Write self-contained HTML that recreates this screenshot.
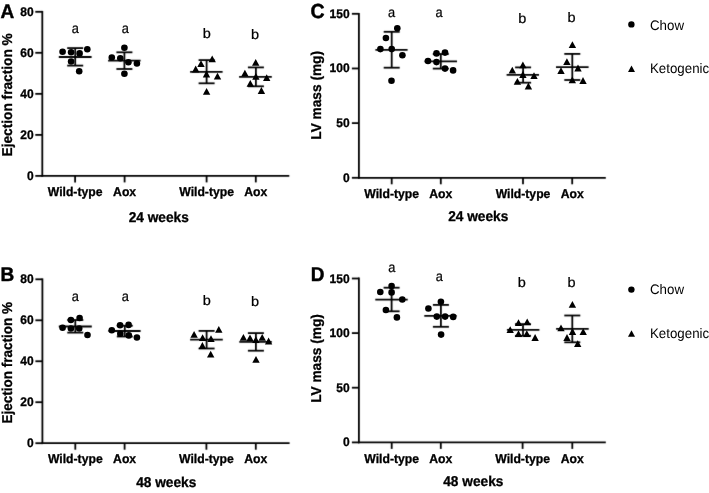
<!DOCTYPE html>
<html><head><meta charset="utf-8"><title>Figure</title>
<style>
html,body{margin:0;padding:0;background:#fff;}
body{width:709px;height:493px;overflow:hidden;font-family:"Liberation Sans", sans-serif;}
svg{display:block;filter:grayscale(1);text-rendering:geometricPrecision;}
</style></head>
<body>
<svg width="709" height="493" viewBox="0 0 709 493">
<defs><filter id="soft" x="0" y="0" width="709" height="493" filterUnits="userSpaceOnUse" color-interpolation-filters="sRGB"><feConvolveMatrix order="3" kernelMatrix="1 8 1 8 64 8 1 8 1" divisor="100" edgeMode="duplicate"/></filter></defs>
<rect width="709" height="493" fill="#fff"/>
<g filter="url(#soft)">
<g stroke="#000" fill="none" stroke-linecap="butt">
<line x1="42.30" y1="10.90" x2="42.30" y2="176.80" stroke-width="1.8"/>
<line x1="41.40" y1="175.90" x2="289.30" y2="175.90" stroke-width="1.8"/>
<line x1="35.30" y1="11.80" x2="42.30" y2="11.80" stroke-width="1.8"/>
<line x1="35.30" y1="52.80" x2="42.30" y2="52.80" stroke-width="1.8"/>
<line x1="35.30" y1="93.85" x2="42.30" y2="93.85" stroke-width="1.8"/>
<line x1="35.30" y1="134.90" x2="42.30" y2="134.90" stroke-width="1.8"/>
<line x1="35.30" y1="175.90" x2="42.30" y2="175.90" stroke-width="1.8"/>
<line x1="75.10" y1="175.90" x2="75.10" y2="182.40" stroke-width="1.8"/>
<line x1="124.60" y1="175.90" x2="124.60" y2="182.40" stroke-width="1.8"/>
<line x1="206.60" y1="175.90" x2="206.60" y2="182.40" stroke-width="1.8"/>
<line x1="255.80" y1="175.90" x2="255.80" y2="182.40" stroke-width="1.8"/>
<line x1="58.80" y1="57.00" x2="91.60" y2="57.00" stroke-width="1.8"/>
<line x1="67.20" y1="48.10" x2="83.20" y2="48.10" stroke-width="1.8"/>
<line x1="67.20" y1="65.60" x2="83.20" y2="65.60" stroke-width="1.8"/>
<line x1="75.20" y1="48.10" x2="75.20" y2="65.60" stroke-width="1.8"/>
<line x1="108.10" y1="60.70" x2="140.60" y2="60.70" stroke-width="1.8"/>
<line x1="116.40" y1="52.30" x2="132.40" y2="52.30" stroke-width="1.8"/>
<line x1="116.40" y1="69.00" x2="132.40" y2="69.00" stroke-width="1.8"/>
<line x1="124.40" y1="52.30" x2="124.40" y2="69.00" stroke-width="1.8"/>
<line x1="190.10" y1="71.80" x2="222.60" y2="71.80" stroke-width="1.8"/>
<line x1="198.60" y1="60.10" x2="214.60" y2="60.10" stroke-width="1.8"/>
<line x1="198.60" y1="83.30" x2="214.60" y2="83.30" stroke-width="1.8"/>
<line x1="206.60" y1="60.10" x2="206.60" y2="83.30" stroke-width="1.8"/>
<line x1="239.10" y1="76.90" x2="271.80" y2="76.90" stroke-width="1.8"/>
<line x1="247.90" y1="67.40" x2="263.90" y2="67.40" stroke-width="1.8"/>
<line x1="247.90" y1="86.30" x2="263.90" y2="86.30" stroke-width="1.8"/>
<line x1="255.90" y1="67.40" x2="255.90" y2="86.30" stroke-width="1.8"/>
<line x1="42.40" y1="278.40" x2="42.40" y2="444.10" stroke-width="1.8"/>
<line x1="41.50" y1="443.20" x2="289.60" y2="443.20" stroke-width="1.8"/>
<line x1="35.40" y1="279.30" x2="42.40" y2="279.30" stroke-width="1.8"/>
<line x1="35.40" y1="320.30" x2="42.40" y2="320.30" stroke-width="1.8"/>
<line x1="35.40" y1="361.25" x2="42.40" y2="361.25" stroke-width="1.8"/>
<line x1="35.40" y1="402.20" x2="42.40" y2="402.20" stroke-width="1.8"/>
<line x1="35.40" y1="443.20" x2="42.40" y2="443.20" stroke-width="1.8"/>
<line x1="75.30" y1="443.20" x2="75.30" y2="449.70" stroke-width="1.8"/>
<line x1="124.60" y1="443.20" x2="124.60" y2="449.70" stroke-width="1.8"/>
<line x1="206.40" y1="443.20" x2="206.40" y2="449.70" stroke-width="1.8"/>
<line x1="255.80" y1="443.20" x2="255.80" y2="449.70" stroke-width="1.8"/>
<line x1="58.80" y1="326.50" x2="91.80" y2="326.50" stroke-width="1.8"/>
<line x1="67.30" y1="320.00" x2="83.30" y2="320.00" stroke-width="1.8"/>
<line x1="67.30" y1="332.60" x2="83.30" y2="332.60" stroke-width="1.8"/>
<line x1="75.30" y1="320.00" x2="75.30" y2="332.60" stroke-width="1.8"/>
<line x1="108.50" y1="331.00" x2="140.60" y2="331.00" stroke-width="1.8"/>
<line x1="116.80" y1="325.70" x2="132.80" y2="325.70" stroke-width="1.8"/>
<line x1="116.80" y1="336.50" x2="132.80" y2="336.50" stroke-width="1.8"/>
<line x1="124.80" y1="325.70" x2="124.80" y2="336.50" stroke-width="1.8"/>
<line x1="190.10" y1="339.60" x2="222.80" y2="339.60" stroke-width="1.8"/>
<line x1="198.60" y1="330.90" x2="214.60" y2="330.90" stroke-width="1.8"/>
<line x1="198.60" y1="348.50" x2="214.60" y2="348.50" stroke-width="1.8"/>
<line x1="206.60" y1="330.90" x2="206.60" y2="348.50" stroke-width="1.8"/>
<line x1="239.30" y1="341.90" x2="271.80" y2="341.90" stroke-width="1.8"/>
<line x1="247.90" y1="333.10" x2="263.90" y2="333.10" stroke-width="1.8"/>
<line x1="247.90" y1="350.70" x2="263.90" y2="350.70" stroke-width="1.8"/>
<line x1="255.90" y1="333.10" x2="255.90" y2="350.70" stroke-width="1.8"/>
<line x1="358.90" y1="12.90" x2="358.90" y2="178.70" stroke-width="1.8"/>
<line x1="358.00" y1="177.80" x2="605.80" y2="177.80" stroke-width="1.8"/>
<line x1="351.90" y1="13.80" x2="358.90" y2="13.80" stroke-width="1.8"/>
<line x1="351.90" y1="68.47" x2="358.90" y2="68.47" stroke-width="1.8"/>
<line x1="351.90" y1="123.13" x2="358.90" y2="123.13" stroke-width="1.8"/>
<line x1="351.90" y1="177.80" x2="358.90" y2="177.80" stroke-width="1.8"/>
<line x1="391.70" y1="177.80" x2="391.70" y2="184.30" stroke-width="1.8"/>
<line x1="440.80" y1="177.80" x2="440.80" y2="184.30" stroke-width="1.8"/>
<line x1="523.00" y1="177.80" x2="523.00" y2="184.30" stroke-width="1.8"/>
<line x1="572.20" y1="177.80" x2="572.20" y2="184.30" stroke-width="1.8"/>
<line x1="375.40" y1="49.80" x2="407.60" y2="49.80" stroke-width="1.8"/>
<line x1="383.70" y1="31.80" x2="399.70" y2="31.80" stroke-width="1.8"/>
<line x1="383.70" y1="67.70" x2="399.70" y2="67.70" stroke-width="1.8"/>
<line x1="391.70" y1="31.80" x2="391.70" y2="67.70" stroke-width="1.8"/>
<line x1="424.50" y1="61.30" x2="457.00" y2="61.30" stroke-width="1.8"/>
<line x1="432.80" y1="54.00" x2="448.80" y2="54.00" stroke-width="1.8"/>
<line x1="432.80" y1="68.60" x2="448.80" y2="68.60" stroke-width="1.8"/>
<line x1="440.80" y1="54.00" x2="440.80" y2="68.60" stroke-width="1.8"/>
<line x1="506.60" y1="74.80" x2="539.00" y2="74.80" stroke-width="1.8"/>
<line x1="515.10" y1="67.40" x2="531.10" y2="67.40" stroke-width="1.8"/>
<line x1="515.10" y1="82.70" x2="531.10" y2="82.70" stroke-width="1.8"/>
<line x1="523.10" y1="67.40" x2="523.10" y2="82.70" stroke-width="1.8"/>
<line x1="556.00" y1="67.20" x2="588.60" y2="67.20" stroke-width="1.8"/>
<line x1="564.30" y1="53.90" x2="580.30" y2="53.90" stroke-width="1.8"/>
<line x1="564.30" y1="80.00" x2="580.30" y2="80.00" stroke-width="1.8"/>
<line x1="572.30" y1="53.90" x2="572.30" y2="80.00" stroke-width="1.8"/>
<line x1="358.90" y1="277.60" x2="358.90" y2="443.30" stroke-width="1.8"/>
<line x1="358.00" y1="442.40" x2="605.80" y2="442.40" stroke-width="1.8"/>
<line x1="351.90" y1="278.50" x2="358.90" y2="278.50" stroke-width="1.8"/>
<line x1="351.90" y1="333.10" x2="358.90" y2="333.10" stroke-width="1.8"/>
<line x1="351.90" y1="387.70" x2="358.90" y2="387.70" stroke-width="1.8"/>
<line x1="351.90" y1="442.40" x2="358.90" y2="442.40" stroke-width="1.8"/>
<line x1="391.70" y1="442.40" x2="391.70" y2="448.90" stroke-width="1.8"/>
<line x1="440.80" y1="442.40" x2="440.80" y2="448.90" stroke-width="1.8"/>
<line x1="522.60" y1="442.40" x2="522.60" y2="448.90" stroke-width="1.8"/>
<line x1="572.30" y1="442.40" x2="572.30" y2="448.90" stroke-width="1.8"/>
<line x1="375.30" y1="299.60" x2="407.70" y2="299.60" stroke-width="1.8"/>
<line x1="383.60" y1="287.70" x2="399.60" y2="287.70" stroke-width="1.8"/>
<line x1="383.60" y1="311.30" x2="399.60" y2="311.30" stroke-width="1.8"/>
<line x1="391.60" y1="287.70" x2="391.60" y2="311.30" stroke-width="1.8"/>
<line x1="424.30" y1="315.90" x2="456.60" y2="315.90" stroke-width="1.8"/>
<line x1="432.90" y1="304.90" x2="448.90" y2="304.90" stroke-width="1.8"/>
<line x1="432.90" y1="326.80" x2="448.90" y2="326.80" stroke-width="1.8"/>
<line x1="440.90" y1="304.90" x2="440.90" y2="326.80" stroke-width="1.8"/>
<line x1="506.90" y1="329.80" x2="539.40" y2="329.80" stroke-width="1.8"/>
<line x1="515.00" y1="324.10" x2="531.00" y2="324.10" stroke-width="1.8"/>
<line x1="515.00" y1="335.80" x2="531.00" y2="335.80" stroke-width="1.8"/>
<line x1="523.00" y1="324.10" x2="523.00" y2="335.80" stroke-width="1.8"/>
<line x1="556.10" y1="328.90" x2="588.70" y2="328.90" stroke-width="1.8"/>
<line x1="564.30" y1="315.50" x2="580.30" y2="315.50" stroke-width="1.8"/>
<line x1="564.30" y1="342.30" x2="580.30" y2="342.30" stroke-width="1.8"/>
<line x1="572.30" y1="315.50" x2="572.30" y2="342.30" stroke-width="1.8"/>
</g>
</g>
<g fill="#000" stroke="none">
<circle cx="62.60" cy="51.80" r="3.3"/>
<circle cx="71.10" cy="52.20" r="3.3"/>
<circle cx="79.60" cy="53.40" r="3.3"/>
<circle cx="87.30" cy="49.30" r="3.3"/>
<circle cx="71.10" cy="61.50" r="3.3"/>
<circle cx="79.20" cy="71.20" r="3.3"/>
<circle cx="124.40" cy="47.70" r="3.3"/>
<circle cx="111.80" cy="57.50" r="3.3"/>
<circle cx="120.30" cy="58.30" r="3.3"/>
<circle cx="128.40" cy="62.30" r="3.3"/>
<circle cx="136.90" cy="63.50" r="3.3"/>
<circle cx="124.40" cy="73.70" r="3.3"/>
<path d="M212.20 55.50L215.90 62.30L208.50 62.30Z"/>
<path d="M201.00 60.30L204.70 67.10L197.30 67.10Z"/>
<path d="M195.70 65.60L199.40 72.40L192.00 72.40Z"/>
<path d="M206.50 70.60L210.20 77.40L202.80 77.40Z"/>
<path d="M217.50 72.70L221.20 79.50L213.80 79.50Z"/>
<path d="M206.60 87.90L210.30 94.70L202.90 94.70Z"/>
<path d="M255.70 59.00L259.40 65.80L252.00 65.80Z"/>
<path d="M244.90 69.80L248.60 76.60L241.20 76.60Z"/>
<path d="M255.90 73.00L259.60 79.80L252.20 79.80Z"/>
<path d="M266.70 74.20L270.40 81.00L263.00 81.00Z"/>
<path d="M250.30 80.00L254.00 86.80L246.60 86.80Z"/>
<path d="M261.40 87.10L265.10 93.90L257.70 93.90Z"/>
<circle cx="70.90" cy="320.00" r="3.3"/>
<circle cx="79.60" cy="318.00" r="3.3"/>
<circle cx="62.60" cy="327.70" r="3.3"/>
<circle cx="70.90" cy="328.50" r="3.3"/>
<circle cx="79.20" cy="328.50" r="3.3"/>
<circle cx="87.50" cy="335.00" r="3.3"/>
<circle cx="111.80" cy="330.30" r="3.3"/>
<circle cx="120.10" cy="325.30" r="3.3"/>
<circle cx="128.60" cy="324.90" r="3.3"/>
<circle cx="120.30" cy="333.80" r="3.3"/>
<circle cx="128.80" cy="335.40" r="3.3"/>
<circle cx="136.90" cy="337.50" r="3.3"/>
<path d="M218.80 326.00L222.50 332.80L215.10 332.80Z"/>
<path d="M194.10 330.90L197.80 337.70L190.40 337.70Z"/>
<path d="M202.60 334.20L206.30 341.00L198.90 341.00Z"/>
<path d="M211.00 335.30L214.70 342.10L207.30 342.10Z"/>
<path d="M202.40 342.10L206.10 348.90L198.70 348.90Z"/>
<path d="M210.70 350.80L214.40 357.60L207.00 357.60Z"/>
<path d="M243.40 334.00L247.10 340.80L239.70 340.80Z"/>
<path d="M250.00 334.50L253.70 341.30L246.30 341.30Z"/>
<path d="M255.90 336.20L259.60 343.00L252.20 343.00Z"/>
<path d="M262.20 333.90L265.90 340.70L258.50 340.70Z"/>
<path d="M268.60 337.60L272.30 344.40L264.90 344.40Z"/>
<path d="M256.00 355.90L259.70 362.70L252.30 362.70Z"/>
<circle cx="397.30" cy="28.20" r="3.3"/>
<circle cx="385.90" cy="38.00" r="3.3"/>
<circle cx="380.40" cy="49.10" r="3.3"/>
<circle cx="391.70" cy="49.10" r="3.3"/>
<circle cx="402.40" cy="55.20" r="3.3"/>
<circle cx="391.50" cy="80.70" r="3.3"/>
<circle cx="436.50" cy="53.40" r="3.3"/>
<circle cx="445.00" cy="52.60" r="3.3"/>
<circle cx="428.00" cy="61.00" r="3.3"/>
<circle cx="436.50" cy="62.10" r="3.3"/>
<circle cx="445.00" cy="68.60" r="3.3"/>
<circle cx="453.10" cy="70.40" r="3.3"/>
<path d="M522.90 61.50L526.60 68.30L519.20 68.30Z"/>
<path d="M512.30 66.80L516.00 73.60L508.60 73.60Z"/>
<path d="M522.90 71.10L526.60 77.90L519.20 77.90Z"/>
<path d="M534.00 72.20L537.70 79.00L530.30 79.00Z"/>
<path d="M517.40 77.90L521.10 84.70L513.70 84.70Z"/>
<path d="M528.40 82.60L532.10 89.40L524.70 89.40Z"/>
<path d="M572.40 41.30L576.10 48.10L568.70 48.10Z"/>
<path d="M566.90 58.20L570.60 65.00L563.20 65.00Z"/>
<path d="M561.00 67.20L564.70 74.00L557.30 74.00Z"/>
<path d="M578.00 64.60L581.70 71.40L574.30 71.40Z"/>
<path d="M572.30 76.40L576.00 83.20L568.60 83.20Z"/>
<path d="M583.00 77.10L586.70 83.90L579.30 83.90Z"/>
<circle cx="391.60" cy="286.00" r="3.3"/>
<circle cx="380.30" cy="292.00" r="3.3"/>
<circle cx="391.60" cy="292.40" r="3.3"/>
<circle cx="402.30" cy="299.50" r="3.3"/>
<circle cx="385.90" cy="310.00" r="3.3"/>
<circle cx="396.90" cy="317.40" r="3.3"/>
<circle cx="440.90" cy="301.70" r="3.3"/>
<circle cx="428.40" cy="308.50" r="3.3"/>
<circle cx="436.80" cy="316.60" r="3.3"/>
<circle cx="445.10" cy="316.60" r="3.3"/>
<circle cx="453.20" cy="316.90" r="3.3"/>
<circle cx="441.10" cy="334.60" r="3.3"/>
<path d="M518.50 319.30L522.20 326.10L514.80 326.10Z"/>
<path d="M527.20 318.50L530.90 325.30L523.50 325.30Z"/>
<path d="M510.20 326.20L513.90 333.00L506.50 333.00Z"/>
<path d="M518.50 330.30L522.20 337.10L514.80 337.10Z"/>
<path d="M526.80 330.30L530.50 337.10L523.10 337.10Z"/>
<path d="M535.10 334.10L538.80 340.90L531.40 340.90Z"/>
<path d="M572.40 301.00L576.10 307.80L568.70 307.80Z"/>
<path d="M561.00 324.40L564.70 331.20L557.30 331.20Z"/>
<path d="M572.50 328.10L576.20 334.90L568.80 334.90Z"/>
<path d="M583.20 328.20L586.90 335.00L579.50 335.00Z"/>
<path d="M567.00 334.10L570.70 340.90L563.30 340.90Z"/>
<path d="M577.70 340.20L581.40 347.00L574.00 347.00Z"/>
</g>
<g fill="#000" stroke="#000" stroke-width="0.3" font-family='"Liberation Sans", sans-serif'>
<text transform="translate(33.60 15.80) scale(1.0 1.04)" font-size="12" font-weight="bold" text-anchor="end">80</text>
<text transform="translate(33.60 56.80) scale(1.0 1.04)" font-size="12" font-weight="bold" text-anchor="end">60</text>
<text transform="translate(33.60 97.85) scale(1.0 1.04)" font-size="12" font-weight="bold" text-anchor="end">40</text>
<text transform="translate(33.60 138.90) scale(1.0 1.04)" font-size="12" font-weight="bold" text-anchor="end">20</text>
<text transform="translate(33.60 179.90) scale(1.0 1.04)" font-size="12" font-weight="bold" text-anchor="end">0</text>
<text transform="translate(75.10 195.80) scale(1.0 1.04)" font-size="12.2" font-weight="bold" text-anchor="middle">Wild-type</text>
<text transform="translate(124.60 195.80) scale(1.0 1.04)" font-size="12.2" font-weight="bold" text-anchor="middle">Aox</text>
<text transform="translate(206.60 195.80) scale(1.0 1.04)" font-size="12.2" font-weight="bold" text-anchor="middle">Wild-type</text>
<text transform="translate(255.80 195.80) scale(1.0 1.04)" font-size="12.2" font-weight="bold" text-anchor="middle">Aox</text>
<text transform="translate(158.70 221.60) scale(1.0 1.04)" font-size="13.7" font-weight="bold" text-anchor="middle">24 weeks</text>
<text transform="translate(0.60 18.00) scale(1.0 1.04)" font-size="19" font-weight="bold" text-anchor="start" stroke-width="0.45">A</text>
<text x="0" y="0" font-size="13.7" font-weight="bold" text-anchor="middle" transform="translate(11.60 94.85) rotate(-90) scale(1.0 1.04)">Ejection fraction %</text>
<text transform="translate(75.30 32.90) scale(1.0 1.1)" font-size="12.8" text-anchor="middle" stroke-width="0.22">a</text>
<text transform="translate(125.30 33.30) scale(1.0 1.1)" font-size="12.8" text-anchor="middle" stroke-width="0.22">a</text>
<text transform="translate(206.70 38.00) scale(1.1 1.04)" font-size="13.2" text-anchor="middle" stroke-width="0.22">b</text>
<text transform="translate(255.10 38.90) scale(1.1 1.04)" font-size="13.2" text-anchor="middle" stroke-width="0.22">b</text>
<text transform="translate(33.60 283.30) scale(1.0 1.04)" font-size="12" font-weight="bold" text-anchor="end">80</text>
<text transform="translate(33.60 324.30) scale(1.0 1.04)" font-size="12" font-weight="bold" text-anchor="end">60</text>
<text transform="translate(33.60 365.25) scale(1.0 1.04)" font-size="12" font-weight="bold" text-anchor="end">40</text>
<text transform="translate(33.60 406.20) scale(1.0 1.04)" font-size="12" font-weight="bold" text-anchor="end">20</text>
<text transform="translate(33.60 447.20) scale(1.0 1.04)" font-size="12" font-weight="bold" text-anchor="end">0</text>
<text transform="translate(75.30 462.80) scale(1.0 1.04)" font-size="12.2" font-weight="bold" text-anchor="middle">Wild-type</text>
<text transform="translate(124.60 462.80) scale(1.0 1.04)" font-size="12.2" font-weight="bold" text-anchor="middle">Aox</text>
<text transform="translate(206.40 462.80) scale(1.0 1.04)" font-size="12.2" font-weight="bold" text-anchor="middle">Wild-type</text>
<text transform="translate(255.80 462.80) scale(1.0 1.04)" font-size="12.2" font-weight="bold" text-anchor="middle">Aox</text>
<text transform="translate(166.20 487.40) scale(1.0 1.04)" font-size="13.7" font-weight="bold" text-anchor="middle">48 weeks</text>
<text transform="translate(0.60 281.00) scale(1.0 1.04)" font-size="19" font-weight="bold" text-anchor="start" stroke-width="0.45">B</text>
<text x="0" y="0" font-size="13.7" font-weight="bold" text-anchor="middle" transform="translate(11.60 362.70) rotate(-90) scale(0.985 1.04)">Ejection fraction %</text>
<text transform="translate(75.30 300.60) scale(1.0 1.1)" font-size="12.8" text-anchor="middle" stroke-width="0.22">a</text>
<text transform="translate(125.30 300.90) scale(1.0 1.1)" font-size="12.8" text-anchor="middle" stroke-width="0.22">a</text>
<text transform="translate(206.80 305.40) scale(1.1 1.04)" font-size="13.2" text-anchor="middle" stroke-width="0.22">b</text>
<text transform="translate(255.00 306.30) scale(1.1 1.04)" font-size="13.2" text-anchor="middle" stroke-width="0.22">b</text>
<text transform="translate(349.60 17.80) scale(1.0 1.04)" font-size="12" font-weight="bold" text-anchor="end">150</text>
<text transform="translate(349.60 72.47) scale(1.0 1.04)" font-size="12" font-weight="bold" text-anchor="end">100</text>
<text transform="translate(349.60 127.13) scale(1.0 1.04)" font-size="12" font-weight="bold" text-anchor="end">50</text>
<text transform="translate(349.60 181.80) scale(1.0 1.04)" font-size="12" font-weight="bold" text-anchor="end">0</text>
<text transform="translate(391.70 197.70) scale(1.0 1.04)" font-size="12.2" font-weight="bold" text-anchor="middle">Wild-type</text>
<text transform="translate(440.80 197.70) scale(1.0 1.04)" font-size="12.2" font-weight="bold" text-anchor="middle">Aox</text>
<text transform="translate(523.00 197.70) scale(1.0 1.04)" font-size="12.2" font-weight="bold" text-anchor="middle">Wild-type</text>
<text transform="translate(572.20 197.70) scale(1.0 1.04)" font-size="12.2" font-weight="bold" text-anchor="middle">Aox</text>
<text transform="translate(478.20 221.40) scale(1.0 1.04)" font-size="13.7" font-weight="bold" text-anchor="middle">24 weeks</text>
<text transform="translate(310.60 18.20) scale(1.0 1.04)" font-size="19.5" font-weight="bold" text-anchor="start" stroke-width="0.45">C</text>
<text x="0" y="0" font-size="13.7" font-weight="bold" text-anchor="middle" transform="translate(321.20 95.35) rotate(-90) scale(1.0 1.04)">LV mass (mg)</text>
<text transform="translate(391.60 17.10) scale(1.0 1.1)" font-size="12.8" text-anchor="middle" stroke-width="0.22">a</text>
<text transform="translate(439.10 17.10) scale(1.0 1.1)" font-size="12.8" text-anchor="middle" stroke-width="0.22">a</text>
<text transform="translate(522.20 22.50) scale(1.1 1.04)" font-size="13.2" text-anchor="middle" stroke-width="0.22">b</text>
<text transform="translate(571.50 21.60) scale(1.1 1.04)" font-size="13.2" text-anchor="middle" stroke-width="0.22">b</text>
<text transform="translate(349.60 282.50) scale(1.0 1.04)" font-size="12" font-weight="bold" text-anchor="end">150</text>
<text transform="translate(349.60 337.10) scale(1.0 1.04)" font-size="12" font-weight="bold" text-anchor="end">100</text>
<text transform="translate(349.60 391.70) scale(1.0 1.04)" font-size="12" font-weight="bold" text-anchor="end">50</text>
<text transform="translate(349.60 446.40) scale(1.0 1.04)" font-size="12" font-weight="bold" text-anchor="end">0</text>
<text transform="translate(391.70 462.50) scale(1.0 1.04)" font-size="12.2" font-weight="bold" text-anchor="middle">Wild-type</text>
<text transform="translate(440.80 462.50) scale(1.0 1.04)" font-size="12.2" font-weight="bold" text-anchor="middle">Aox</text>
<text transform="translate(522.60 462.50) scale(1.0 1.04)" font-size="12.2" font-weight="bold" text-anchor="middle">Wild-type</text>
<text transform="translate(572.30 462.50) scale(1.0 1.04)" font-size="12.2" font-weight="bold" text-anchor="middle">Aox</text>
<text transform="translate(473.30 486.20) scale(1.0 1.04)" font-size="13.7" font-weight="bold" text-anchor="middle">48 weeks</text>
<text transform="translate(310.80 281.20) scale(1.0 1.04)" font-size="19" font-weight="bold" text-anchor="start" stroke-width="0.45">D</text>
<text x="0" y="0" font-size="13.7" font-weight="bold" text-anchor="middle" transform="translate(321.20 358.50) rotate(-90) scale(1.0 1.04)">LV mass (mg)</text>
<text transform="translate(391.70 272.10) scale(1.0 1.1)" font-size="12.8" text-anchor="middle" stroke-width="0.22">a</text>
<text transform="translate(439.30 281.40) scale(1.0 1.1)" font-size="12.8" text-anchor="middle" stroke-width="0.22">a</text>
<text transform="translate(521.80 287.40) scale(1.1 1.04)" font-size="13.2" text-anchor="middle" stroke-width="0.22">b</text>
<text transform="translate(571.50 286.60) scale(1.1 1.04)" font-size="13.2" text-anchor="middle" stroke-width="0.22">b</text>
</g>
<g fill="#000" font-family='"Liberation Sans", sans-serif' font-size="13.3">
<circle cx="631.4" cy="24.4" r="3.2" fill="#000"/>
<text transform="translate(650.0 29.6) scale(1 1.04)">Chow</text>
<path fill="#000" d="M631.5 65.60L635.0 72.00L628.0 72.00Z"/>
<text transform="translate(650.0 73.0) scale(1 1.04)">Ketogenic</text>
<circle cx="631.4" cy="289.6" r="3.2" fill="#000"/>
<text transform="translate(650.0 294.4) scale(1 1.04)">Chow</text>
<path fill="#000" d="M631.5 330.30L635.0 336.70L628.0 336.70Z"/>
<text transform="translate(650.0 338.1) scale(1 1.04)">Ketogenic</text>
</g>
</svg>
</body></html>
